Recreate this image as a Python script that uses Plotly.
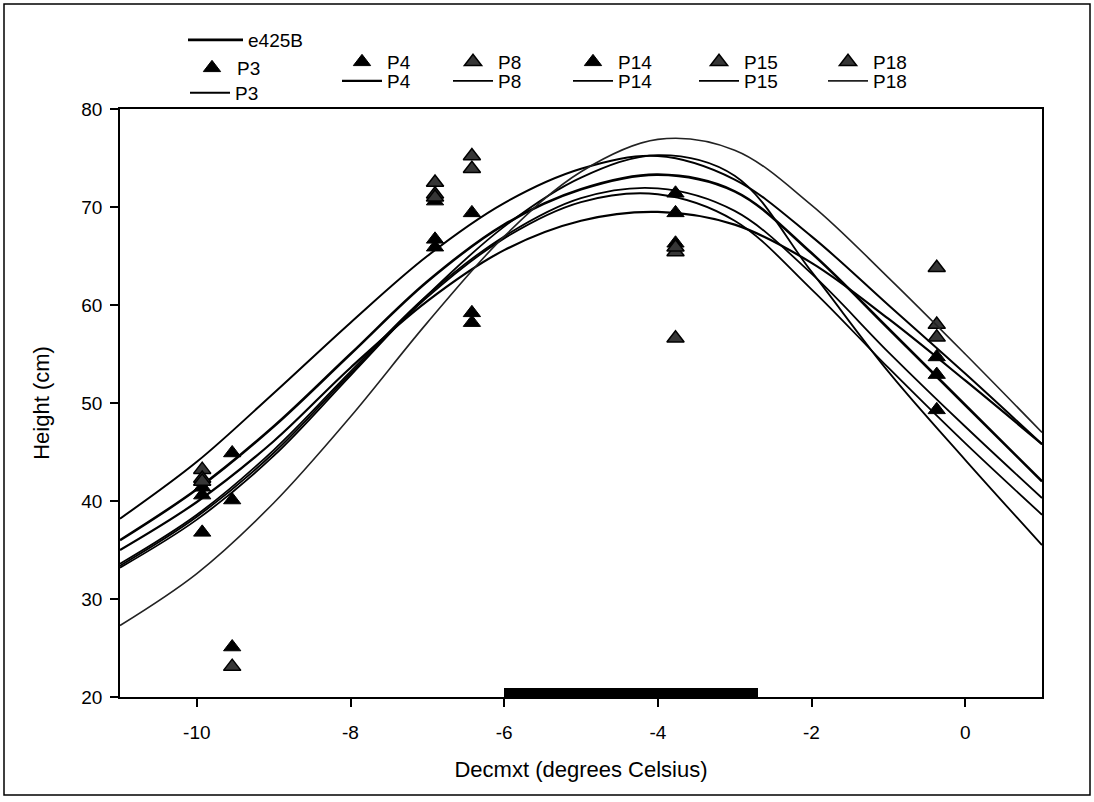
import plotly.graph_objects as go

# ---------------- data ----------------
curve_x = [-11, -10, -9, -8, -7, -6, -5, -4, -3, -2, -1, 0, 1]

e425B_curve = [36.0, 41.2, 47.6, 55.0, 62.4, 68.2, 71.8, 73.3, 71.6, 65.3, 57.6, 49.8, 42.0]
p3_curve = [38.2, 44.0, 51.0, 58.2, 65.0, 70.4, 73.9, 75.2, 72.8, 67.0, 60.0, 53.0, 45.8]
p4_curve = [35.0, 39.9, 46.1, 53.6, 60.4, 65.6, 68.6, 69.5, 68.2, 64.3, 58.6, 52.3, 45.8]
p8_curve = [33.6, 38.6, 45.2, 53.2, 61.0, 67.0, 70.9, 71.9, 69.6, 63.2, 55.2, 47.6, 40.3]
p14_curve = [33.4, 38.4, 44.9, 53.0, 60.8, 66.8, 70.5, 71.3, 68.6, 61.6, 53.6, 45.9, 38.6]
p15_curve = [33.2, 38.1, 44.6, 52.8, 61.0, 68.0, 73.0, 75.3, 73.2, 63.4, 53.2, 44.2, 35.5]
p18_curve = [27.3, 32.6, 39.8, 48.6, 58.2, 67.0, 73.6, 76.9, 75.8, 70.2, 62.8, 55.0, 47.0]

p3_x = [-9.93, -9.54, -6.90, -6.42, -3.77, -0.37]
p3_y = [40.6, 40.1, 66.7, 69.4, 69.4, 54.7]
p4_x = [-9.93, -9.54, -6.90, -6.42, -3.77, -0.37]
p4_y = [36.8, 25.1, 70.6, 58.2, 71.4, 49.3]
p8_x = [-9.93, -9.54, -6.90, -6.42, -3.77, -0.37]
p8_y = [43.2, 23.1, 72.5, 75.2, 56.6, 63.8]
p14_x = [-9.93, -9.54, -6.90, -6.42, -3.77, -0.37]
p14_y = [41.4, 44.9, 65.9, 59.2, 66.3, 52.9]
p15_x = [-9.93, -6.90, -6.42, -3.77, -0.37]
p15_y = [42.3, 71.3, 73.9, 65.4, 58.0]
p18_x = [-9.93, -6.90, -3.77, -0.37]
p18_y = [42.0, 71.0, 65.9, 56.7]

bar_start = [-6.0]
bar_length = [3.3]
bar_level = [20.45]

x_ticks = [-10, -8, -6, -4, -2, 0]
x_tick_text = ["-10", "-8", "-6", "-4", "-2", "0"]
y_ticks = [20, 30, 40, 50, 60, 70, 80]

# ---------------- figure ----------------
FONT = "Liberation Sans, Arial, sans-serif"
fig = go.Figure()

fig.add_trace(go.Bar(x=bar_length, y=bar_level, base=bar_start, orientation="h",
                     width=0.9, marker=dict(color="black", line=dict(width=0)),
                     showlegend=False, hoverinfo="skip"))

solid_marker = dict(symbol="triangle-up", size=15, color="black",
                    line=dict(color="black", width=1))
hatch_marker = dict(symbol="triangle-up", size=15, color="#363636",
                    line=dict(color="black", width=1.5))

def line(x, y, name, legend, width=1.8, color="black"):
    fig.add_trace(go.Scatter(x=x, y=y, mode="lines", name=name, legend=legend,
                             line=dict(color=color, width=width, shape="spline", smoothing=1.0)))

def pts(x, y, name, legend, marker):
    fig.add_trace(go.Scatter(x=x, y=y, mode="markers", name=name, legend=legend,
                             marker=marker))

line(curve_x, e425B_curve, "e425B", "legend", width=2.6)
pts(p3_x, p3_y, "P3", "legend2", solid_marker)
line(curve_x, p3_curve, "P3", "legend3", width=2.0)
pts(p4_x, p4_y, "P4", "legend4", solid_marker)
line(curve_x, p4_curve, "P4", "legend5", width=2.2)
pts(p8_x, p8_y, "P8", "legend6", hatch_marker)
line(curve_x, p8_curve, "P8", "legend7", width=1.8)
pts(p14_x, p14_y, "P14", "legend8", solid_marker)
line(curve_x, p14_curve, "P14", "legend9", width=1.8)
pts(p15_x, p15_y, "P15", "legend10", hatch_marker)
line(curve_x, p15_curve, "P15", "legend11", width=1.8)
pts(p18_x, p18_y, "P18", "legend12", hatch_marker)
line(curve_x, p18_curve, "P18", "legend13", width=1.6, color="#222222")

L, R, T, B = 120, 52, 109, 105
W, H = 1094, 802
pw, ph = W - L - R, H - T - B

def px_x(p):
    return (p - L) / pw

def px_y(p):
    return (H - B - p) / ph

def leg(lx, ly, itemwidth=40):
    return dict(x=px_x(lx), y=px_y(ly), bgcolor="rgba(0,0,0,0)", borderwidth=0,
                xanchor="left", yanchor="middle",
                font=dict(family=FONT, size=19, color="black"), tracegroupgap=0,
                itemwidth=itemwidth, orientation="v")

layout_legends = {
    "legend": leg(183, 40, itemwidth=55),
    "legend2": leg(187, 68),
    "legend3": leg(185, 93),
    "legend4": leg(337, 62), "legend5": leg(337, 81),
    "legend6": leg(448, 62), "legend7": leg(448, 81),
    "legend8": leg(568, 62), "legend9": leg(568, 81),
    "legend10": leg(694, 62), "legend11": leg(694, 81),
    "legend12": leg(823, 62), "legend13": leg(823, 81),
}

axis_common = dict(showline=True, linecolor="black", linewidth=1.5, mirror=True,
                   ticks="outside", ticklen=8, tickwidth=1.5, tickcolor="black",
                   showgrid=False, zeroline=False,
                   tickfont=dict(family=FONT, size=19, color="black"))

fig.update_layout(
    width=W, height=H,
    margin=dict(l=L, r=R, t=T, b=B),
    paper_bgcolor="white", plot_bgcolor="white",
    font=dict(family=FONT, color="black"),
    xaxis=dict(range=[-11, 1], tickvals=x_ticks, ticktext=x_tick_text, ticklabelstandoff=9,
               title=dict(text="Decmxt (degrees Celsius)", font=dict(family=FONT, size=22),
                          standoff=20),
               **axis_common),
    yaxis=dict(range=[20, 80], tickvals=y_ticks, ticklabelstandoff=4,
               title=dict(text="Height (cm)", font=dict(family=FONT, size=22), standoff=26),
               **axis_common),
    bargap=0,
    **layout_legends,
)

fig.add_shape(type="rect", xref="paper", yref="paper",
              x0=px_x(4), x1=px_x(1090), y0=px_y(795), y1=px_y(4),
              line=dict(color="black", width=1.5), fillcolor="rgba(0,0,0,0)", layer="below")

fig.write_html("out.html")
